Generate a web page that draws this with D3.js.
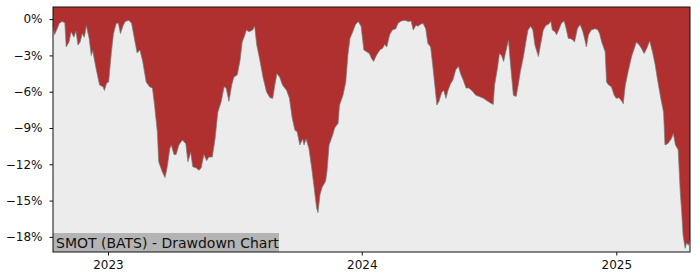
<!DOCTYPE html>
<html>
<head>
<meta charset="utf-8">
<script src="https://cdn.jsdelivr.net/npm/d3@7"></script>
<style>
  body { margin: 0; background: #fff; }
  svg { display: block; font-family: "DejaVu Sans", sans-serif; }
</style>
</head>
<body>
<div id="chart"></div>
<script>
// drawdown of SMOT (percent below running peak)
const dates = [
  "2022-10-14","2022-10-16","2022-10-20","2022-10-23","2022-10-27","2022-10-31","2022-11-02","2022-11-06",
  "2022-11-09","2022-11-13","2022-11-16","2022-11-19","2022-11-22","2022-11-25","2022-11-28","2022-12-01",
  "2022-12-05","2022-12-08","2022-12-10","2022-12-15","2022-12-20","2022-12-25","2022-12-27","2022-12-30",
  "2023-01-02","2023-01-06","2023-01-09","2023-01-13","2023-01-16","2023-01-19","2023-01-23","2023-01-26",
  "2023-01-31","2023-02-04","2023-02-08","2023-02-12","2023-02-16","2023-02-20","2023-02-25","2023-03-02",
  "2023-03-06","2023-03-09","2023-03-13","2023-03-15","2023-03-20","2023-03-24","2023-03-27","2023-03-31",
  "2023-04-02","2023-04-06","2023-04-09","2023-04-13","2023-04-18","2023-04-23","2023-04-26","2023-04-30",
  "2023-05-03","2023-05-08","2023-05-12","2023-05-15","2023-05-19","2023-05-23","2023-05-26","2023-05-31",
  "2023-06-04","2023-06-08","2023-06-13","2023-06-17","2023-06-20","2023-06-24","2023-06-28","2023-07-01",
  "2023-07-06","2023-07-10","2023-07-13","2023-07-17","2023-07-19","2023-07-23","2023-07-28","2023-07-31",
  "2023-08-03","2023-08-07","2023-08-12","2023-08-17","2023-08-22","2023-08-26","2023-08-29","2023-09-01",
  "2023-09-05","2023-09-09","2023-09-15","2023-09-19","2023-09-23","2023-09-27","2023-09-30","2023-10-04",
  "2023-10-08","2023-10-10","2023-10-13","2023-10-17","2023-10-21","2023-10-24","2023-10-28","2023-10-30",
  "2023-11-02","2023-11-05","2023-11-10","2023-11-12","2023-11-15","2023-11-20","2023-11-23","2023-11-28",
  "2023-11-30","2023-12-05","2023-12-09","2023-12-12","2023-12-15","2023-12-19","2023-12-23","2023-12-27",
  "2023-12-31","2024-01-04","2024-01-08","2024-01-12","2024-01-15","2024-01-18","2024-01-22","2024-01-27",
  "2024-01-31","2024-02-03","2024-02-06","2024-02-10","2024-02-14","2024-02-19","2024-02-22","2024-02-27",
  "2024-03-03","2024-03-08","2024-03-12","2024-03-15","2024-03-19","2024-03-22","2024-03-25","2024-03-29",
  "2024-04-02","2024-04-05","2024-04-09","2024-04-12","2024-04-15","2024-04-18","2024-04-21","2024-04-25",
  "2024-04-28","2024-05-01","2024-05-04","2024-05-08","2024-05-11","2024-05-15","2024-05-19","2024-05-22",
  "2024-05-26","2024-05-30","2024-06-03","2024-06-08","2024-06-13","2024-06-18","2024-06-24","2024-06-28",
  "2024-07-03","2024-07-08","2024-07-10","2024-07-14","2024-07-17","2024-07-20","2024-07-23","2024-07-26",
  "2024-07-30","2024-08-02","2024-08-06","2024-08-10","2024-08-13","2024-08-16","2024-08-20","2024-08-24",
  "2024-08-27","2024-08-31","2024-09-03","2024-09-06","2024-09-11","2024-09-14","2024-09-18","2024-09-22",
  "2024-09-25","2024-09-29","2024-10-01","2024-10-05","2024-10-07","2024-10-11","2024-10-14","2024-10-18",
  "2024-10-21","2024-10-24","2024-10-27","2024-10-31","2024-11-02","2024-11-06","2024-11-10","2024-11-14",
  "2024-11-17","2024-11-19","2024-11-22","2024-11-26","2024-12-01","2024-12-05","2024-12-08","2024-12-11",
  "2024-12-16","2024-12-18","2024-12-21","2024-12-25","2024-12-29","2025-01-01","2025-01-05","2025-01-09",
  "2025-01-11","2025-01-14","2025-01-18","2025-01-23","2025-01-27","2025-01-30","2025-02-03","2025-02-06",
  "2025-02-10","2025-02-14","2025-02-18","2025-02-22","2025-02-26","2025-03-01","2025-03-06","2025-03-10",
  "2025-03-12","2025-03-16","2025-03-21","2025-03-24","2025-03-27","2025-03-31","2025-04-03","2025-04-05",
  "2025-04-07","2025-04-10","2025-04-12","2025-04-15","2025-04-17"
];
const drawdown = [
  -0.5,-1.3,-0.8,-0.35,-0.2,-0.3,-2.3,-1.9,
  -1.05,-1.5,-1.0,-2.15,-1.9,-1.2,-1.5,-0.55,
  -1.6,-3.0,-2.6,-4.1,-5.45,-5.6,-5.9,-5.3,
  -5.2,-2.7,-1.2,-0.35,-0.35,-1.2,-0.5,-0.2,
  -0.1,-0.35,-1.6,-2.8,-2.55,-3.5,-5.2,-5.6,
  -5.7,-7.1,-9.3,-11.8,-12.6,-13.1,-12.3,-10.7,
  -10.4,-11.2,-11.2,-10.4,-10.0,-10.3,-11.8,-11.0,
  -12.2,-12.3,-12.5,-12.3,-11.2,-11.7,-11.4,-11.4,
  -9.9,-7.7,-6.8,-5.6,-5.7,-6.8,-5.45,-4.8,
  -4.6,-3.4,-1.9,-1.3,-0.9,-1.05,-0.9,-0.6,
  -2.15,-3.25,-4.8,-6.0,-6.5,-6.55,-5.45,-4.5,
  -4.8,-5.45,-5.9,-6.55,-8.2,-9.2,-9.3,-10.4,
  -9.9,-10.4,-9.9,-10.7,-12.3,-13.7,-15.6,-16.0,
  -14.5,-13.9,-13.4,-12.6,-10.4,-9.6,-9.0,-8.6,
  -7.1,-6.3,-5.2,-3.0,-1.6,-1.05,-0.45,-0.2,
  -0.6,-2.55,-2.7,-2.85,-3.25,-3.5,-3.0,-2.55,
  -2.4,-2.1,-2.3,-1.3,-0.9,-0.8,-0.35,-0.15,
  -0.1,-0.2,-0.15,-0.9,-0.5,-0.6,-0.45,-0.35,
  -0.8,-2.0,-2.3,-3.8,-5.45,-7.1,-6.8,-6.05,
  -5.9,-6.55,-5.9,-5.3,-5.05,-4.2,-3.9,-4.5,
  -5.05,-5.7,-5.7,-5.95,-6.3,-6.4,-6.55,-6.7,
  -6.9,-7.05,-5.45,-4.1,-2.85,-3.0,-3.5,-2.7,
  -1.75,-3.8,-6.3,-6.4,-5.45,-4.35,-3.25,-1.9,
  -0.9,-0.6,-0.9,-2.15,-3.1,-2.15,-0.9,-0.5,
  -0.45,-0.2,-0.9,-1.05,-1.3,-0.8,-0.35,-0.15,
  -0.8,-1.6,-1.6,-1.75,-1.9,-0.8,-0.45,-1.05,
  -1.75,-2.3,-1.3,-0.9,-0.8,-0.85,-1.2,-1.9,
  -2.7,-5.2,-5.45,-5.6,-6.3,-6.55,-6.5,-6.8,
  -7.0,-5.45,-4.35,-3.1,-2.4,-1.9,-2.15,-2.4,
  -2.85,-2.4,-1.8,-2.7,-3.8,-4.9,-6.55,-7.7,
  -10.4,-10.3,-9.9,-9.45,-10.4,-10.8,-14.3,-15.9,
  -17.85,-18.95,-18.5,-18.7,-18.25
];
const yTicks = [0, -3, -6, -9, -12, -15, -18];
const xTickYears = ["2023-01-01", "2024-01-01", "2025-01-01"];
const chartTitle = "SMOT (BATS) - Drawdown Chart";

const W = 700, H = 280;
const margin = {top: 7, right: 10, bottom: 28, left: 53};
const parse = d3.utcParse("%Y-%m-%d");
const data = dates.map((d, i) => ({date: parse(d), v: drawdown[i]}));

const svg = d3.select("#chart").append("svg").attr("width", W).attr("height", H);

const x = d3.scaleUtc()
  .domain(d3.extent(data, d => d.date))
  .range([margin.left, W - margin.right]);
const y = d3.scaleLinear()
  .domain([-19.25, 1])
  .range([H - margin.bottom, margin.top]);

const pw = W - margin.right - margin.left, ph = H - margin.bottom - margin.top;

// plot background
svg.append("rect")
  .attr("x", margin.left).attr("y", margin.top)
  .attr("width", pw).attr("height", ph)
  .attr("fill", "#ececec");

// red area from curve up to top of plot
const area = d3.area()
  .x(d => x(d.date))
  .y0(y(1))
  .y1(d => y(d.v));
svg.append("path").datum(data)
  .attr("d", area)
  .attr("fill", "#b03030");

svg.append("path").datum(data)
  .attr("d", d3.line().x(d => x(d.date)).y(d => y(d.v)))
  .attr("fill", "none")
  .attr("stroke", "#7a7a7a")
  .attr("stroke-width", 1)
  .attr("stroke-opacity", 0.7);

// title box bottom-left
const tb = svg.append("g");
tb.append("rect")
  .attr("x", margin.left).attr("y", 233)
  .attr("width", 226).attr("height", H - margin.bottom - 233)
  .attr("fill", "#b4b4b4");
tb.append("text")
  .attr("x", margin.left + 3).attr("y", 247.5)
  .attr("font-size", 14)
  .attr("fill", "#111")
  .text(chartTitle);

// axes
const fmt = d => (d < 0 ? "\u2212" : "") + Math.abs(d) + "%";
const yAxis = svg.append("g")
  .attr("transform", `translate(${margin.left},0)`)
  .call(d3.axisLeft(y).tickValues(yTicks).tickFormat(fmt).tickSize(3.5).tickPadding(7).tickSizeOuter(0));
const xAxis = svg.append("g")
  .attr("transform", `translate(0,${H - margin.bottom})`)
  .call(d3.axisBottom(x).tickValues(xTickYears.map(parse)).tickFormat(d3.utcFormat("%Y")).tickSize(3.5).tickPadding(5).tickSizeOuter(0));
[yAxis, xAxis].forEach(a => {
  a.select(".domain").remove();
  a.selectAll("text").attr("font-size", 12).attr("fill", "#111").attr("font-family", "DejaVu Sans");
  a.selectAll("line").attr("stroke", "#111");
});

// frame
svg.append("rect")
  .attr("x", margin.left).attr("y", margin.top)
  .attr("width", pw).attr("height", ph)
  .attr("fill", "none").attr("stroke", "#111").attr("stroke-width", 1);
</script>
</body>
</html>
